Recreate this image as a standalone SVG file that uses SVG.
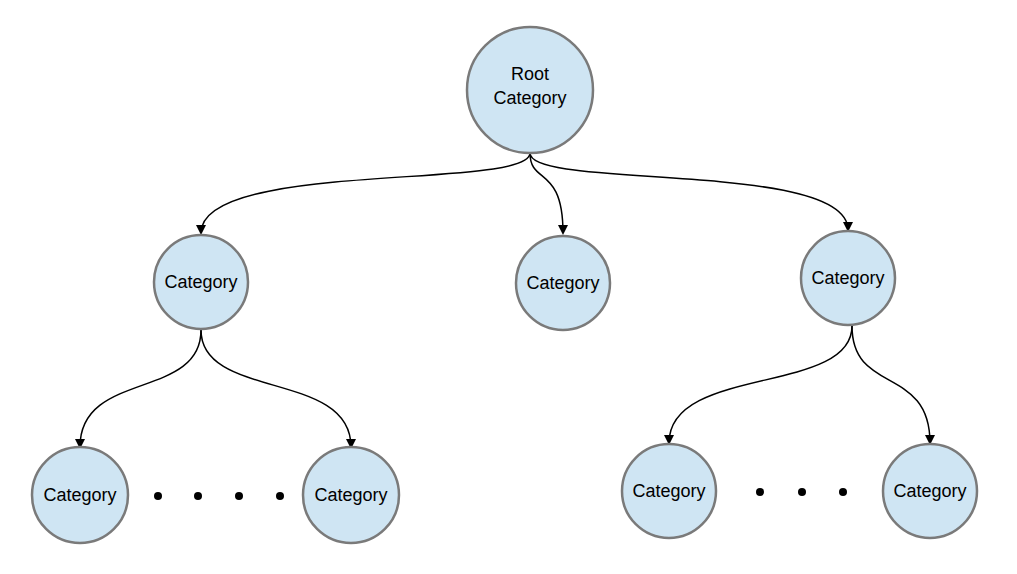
<svg xmlns="http://www.w3.org/2000/svg" width="1017" height="574" viewBox="0 0 1017 574">
<style>
.n{fill:#cfe5f3;stroke:#7a7a7a;stroke-width:2.5}
.t{font-family:"Liberation Sans",Arial,sans-serif;font-size:18px;text-anchor:middle;fill:#000}
.c{fill:none;stroke:#000;stroke-width:1.5;marker-end:url(#a)}
</style>
<defs><marker id="a" markerWidth="10" markerHeight="10" refX="8" refY="5" orient="auto" markerUnits="userSpaceOnUse"><path d="M0,0 L10,5 L0,10 Z" fill="#000"/></marker></defs>
<rect width="1017" height="574" fill="#fff"/>
<g id="connectors">
<path class="c" d="M530,153 C530,190 201,160 201,233"/>
<path class="c" d="M530,153 C530,185 563,165 563,233"/>
<path class="c" d="M530,153 C530,190 848,160 848,230"/>
<path class="c" d="M201,330 C201,400 80,370 80,447"/>
<path class="c" d="M201,330 C201,400 351,370 351,447"/>
<path class="c" d="M852,326 C852,395 669,365 669,443"/>
<path class="c" d="M852,326 C852,395 930,365 930,443"/>
</g>
<g id="root"><circle class="n" cx="530" cy="90" r="63"/><text class="t" x="530" y="80">Root</text><text class="t" x="530" y="104">Category</text></g>
<g id="c1"><circle class="n" cx="201" cy="282" r="47"/><text class="t" x="201" y="288">Category</text></g>
<g id="c2"><circle class="n" cx="563" cy="283" r="47"/><text class="t" x="563" y="289">Category</text></g>
<g id="c3"><circle class="n" cx="848" cy="278" r="47"/><text class="t" x="848" y="284">Category</text></g>
<g id="c4"><circle class="n" cx="80" cy="495" r="48"/><text class="t" x="80" y="501">Category</text></g>
<g id="c5"><circle class="n" cx="351" cy="495" r="48"/><text class="t" x="351" y="501">Category</text></g>
<g id="c6"><circle class="n" cx="669" cy="491" r="47"/><text class="t" x="669" y="497">Category</text></g>
<g id="c7"><circle class="n" cx="930" cy="491" r="47"/><text class="t" x="930" y="497">Category</text></g>
<g id="dots" fill="#000">
<circle cx="158" cy="496" r="4"/><circle cx="198" cy="496" r="4"/><circle cx="239" cy="496" r="4"/><circle cx="280" cy="496" r="4"/>
<circle cx="760" cy="492" r="4"/><circle cx="802" cy="492" r="4"/><circle cx="843" cy="492" r="4"/>
</g>
</svg>
